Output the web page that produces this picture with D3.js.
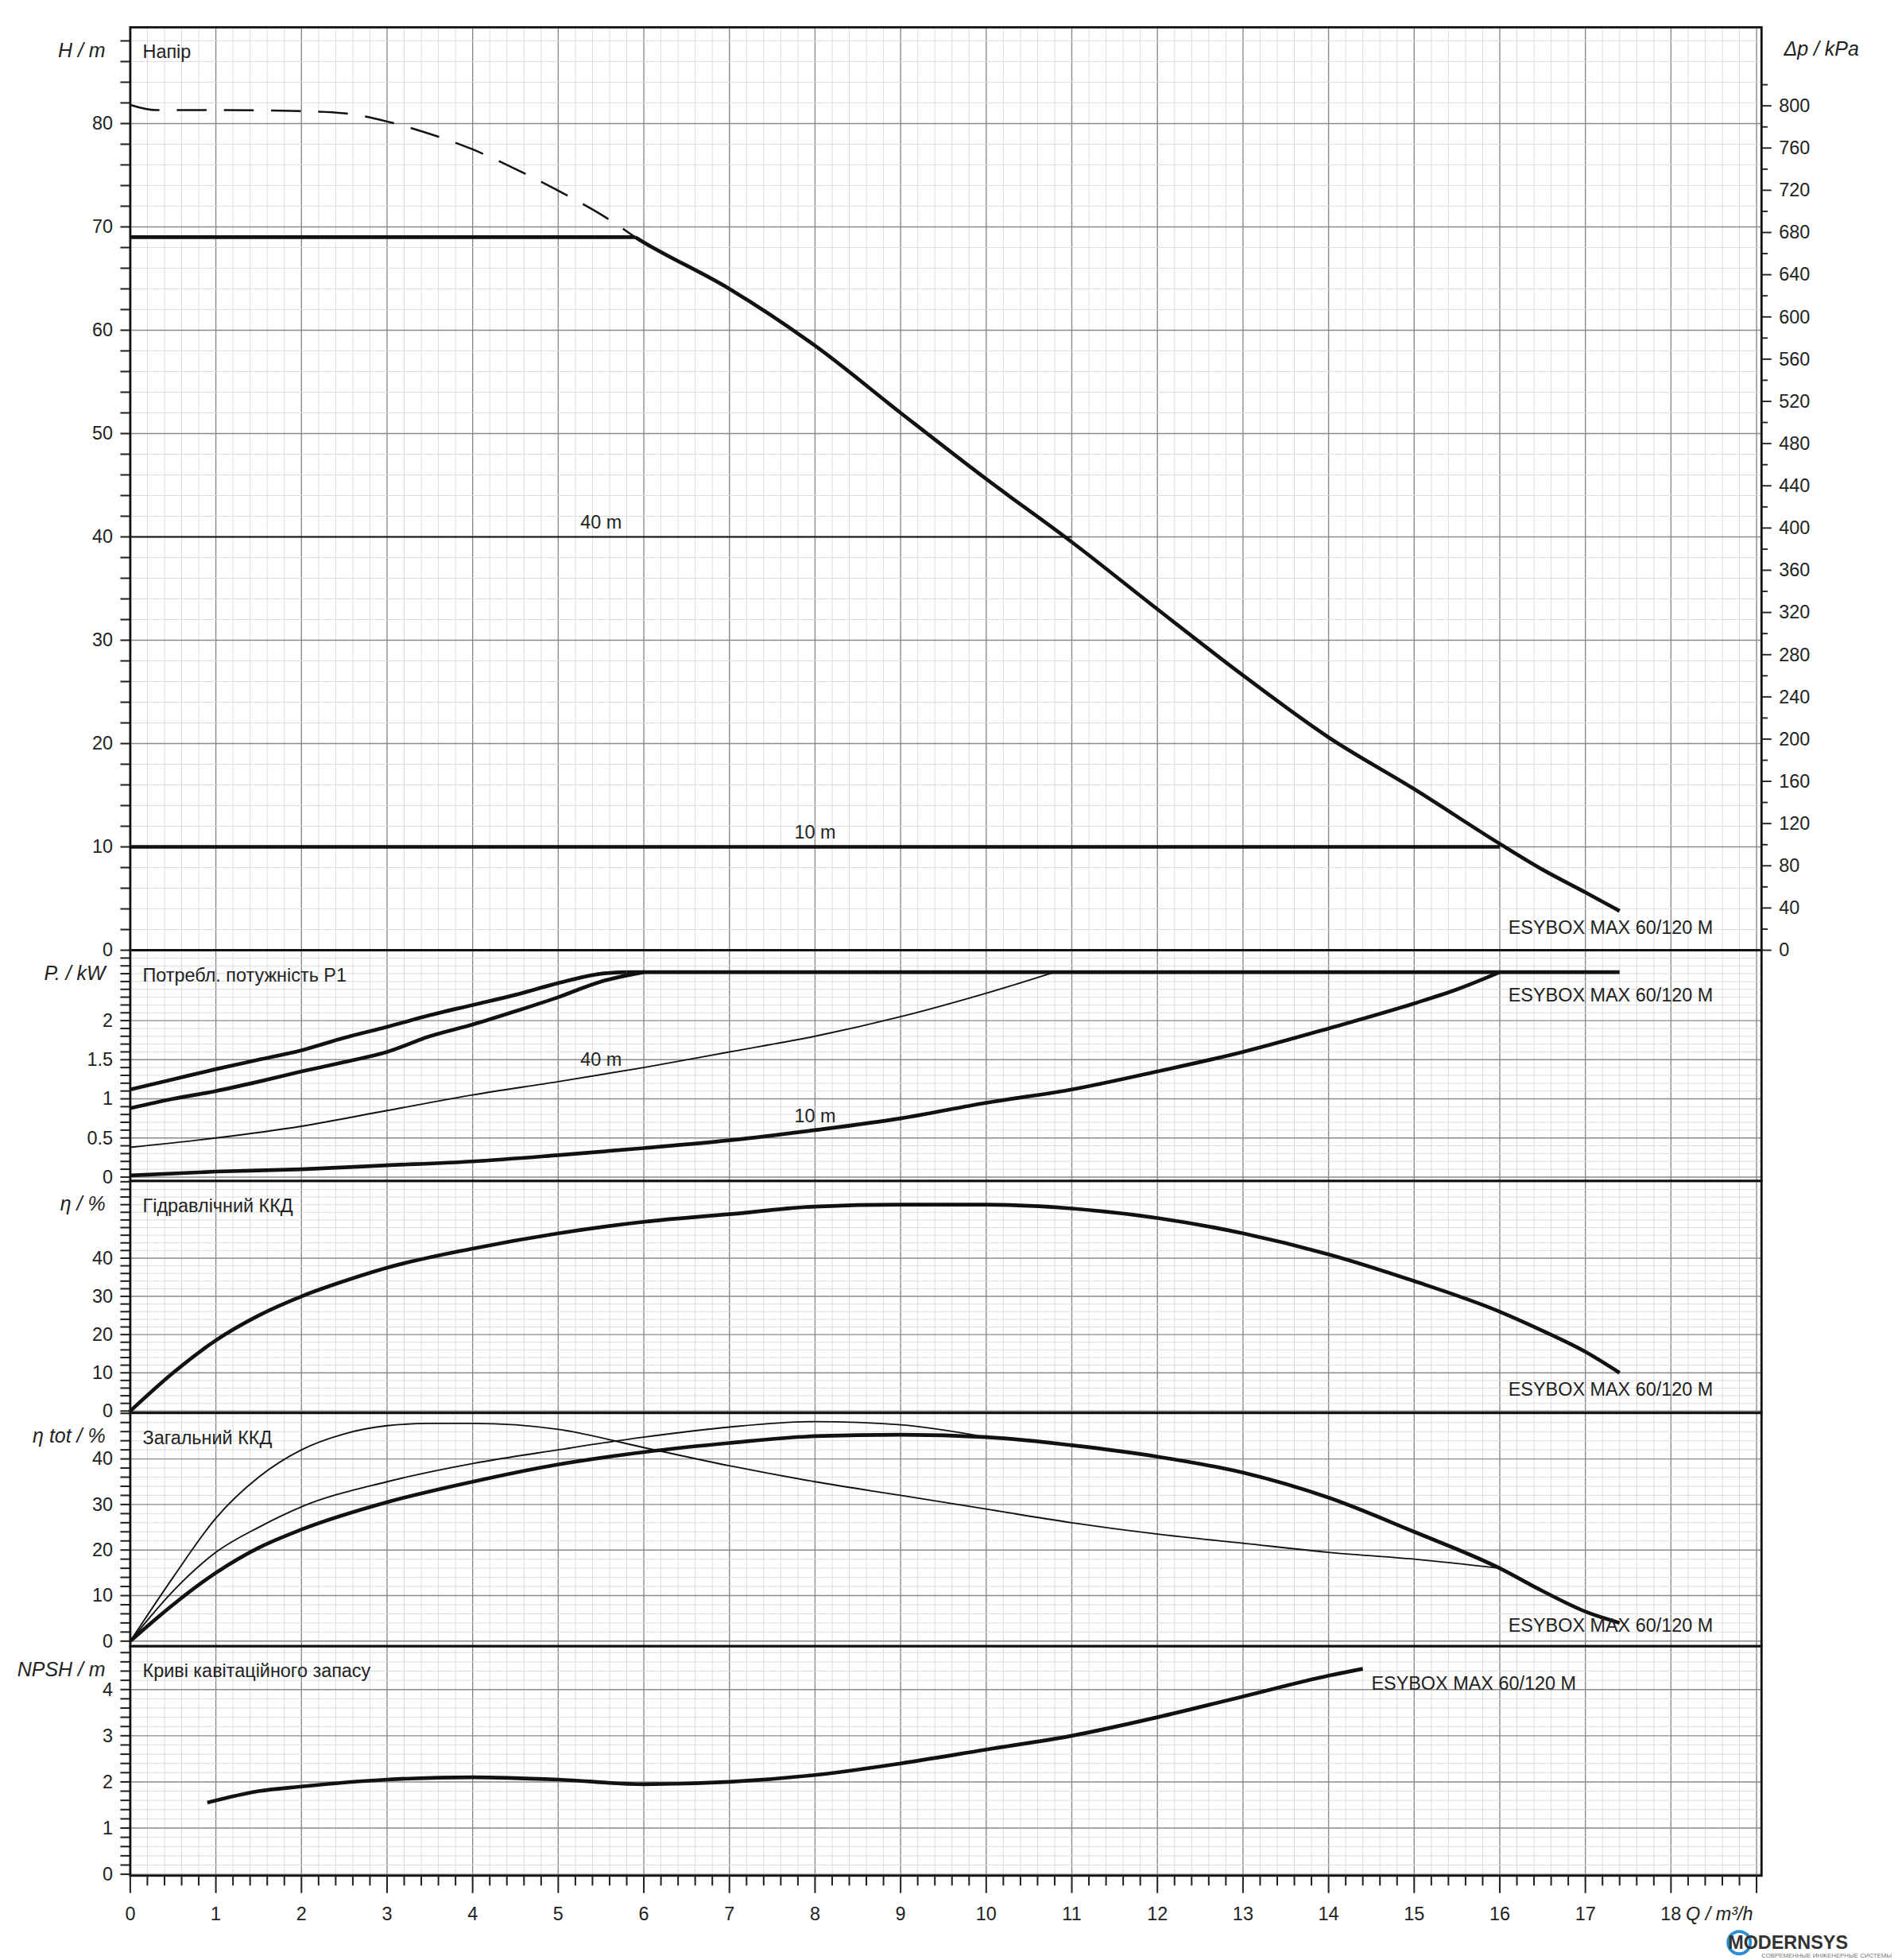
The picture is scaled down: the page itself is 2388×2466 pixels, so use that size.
<!DOCTYPE html>
<html><head><meta charset="utf-8">
<script src="https://cdn.jsdelivr.net/npm/d3@7"></script>
<style>body{margin:0;background:#fff}svg{display:block}text{font-family:"Liberation Sans",Arial,sans-serif;fill:#222}</style>
</head><body><svg id="c" width="2388" height="2466" viewBox="0 0 1530 1580"></svg>
<script>
const model="ESYBOX MAX 60/120 M";
const hMain=[[5.9,69],[6,68.5],[7,64],[8,58.5],[9,52],[10,45.6],[11,39.5],[12,33],[13,26.6],[14,20.6],[15,15.6],[16,10.3],[16.5,7.8],[17,5.6],[17.4,3.8]];
const hMax=[[0,69],[5.9,69]];
const hDash=[[0,81.8],[0.3,81.3],[1,81.3],[2,81.2],[2.5,81],[3,80.2],[3.5,79],[4,77.5],[4.5,75.6],[5,73.5],[5.5,71.2],[5.9,69]];
const h40=[[0,40],[11,40]], h10=[[0,10],[16,10]];
const pCap=[[5.8,2.62],[17.4,2.62]];
const pA=[[0,1.12],[0.5,1.25],[1,1.38],[1.5,1.5],[2,1.62],[2.5,1.78],[3,1.92],[3.5,2.07],[4,2.2],[4.5,2.33],[5,2.48],[5.5,2.6],[5.8,2.62]];
const pB=[[0,0.88],[0.5,1],[1,1.1],[1.5,1.22],[2,1.35],[2.5,1.47],[3,1.6],[3.5,1.8],[4,1.95],[4.5,2.12],[5,2.3],[5.5,2.5],[6,2.62]];
const p40=[[0,0.38],[1,0.5],[2,0.65],[3,0.85],[4,1.05],[5,1.22],[6,1.4],[7,1.6],[8,1.8],[9,2.05],[10,2.35],[10.8,2.62]];
const p10=[[0,0.02],[1,0.07],[2,0.1],[3,0.15],[4,0.2],[5,0.28],[6,0.37],[7,0.47],[8,0.6],[9,0.75],[10,0.95],[11,1.12],[12,1.35],[13,1.6],[14,1.9],[15,2.22],[15.5,2.4],[16,2.62]];
const eta=[[0,0],[0.5,10],[1,18.5],[1.5,25],[2,30],[2.5,34],[3,37.5],[4,42.5],[5,46.5],[6,49.5],[7,51.5],[8,53.5],[9,54],[10,54],[11,53],[12,50.5],[13,46.5],[14,41],[15,34],[16,26],[16.5,21],[17,15.5],[17.4,10]];
const etaT=[[0,0],[0.5,8],[1,15],[1.5,20.5],[2,24.5],[3,30.5],[4,35],[5,38.8],[6,41.5],[7,43.5],[8,45],[9,45.3],[10,44.8],[11,43],[12,40.5],[13,37],[14,31.5],[15,24],[16,16],[16.5,11],[17,6.5],[17.4,4]];
const etaT1=[[0,0],[0.5,14],[1,27],[1.5,36],[2,42],[2.5,45.5],[3,47.3],[3.5,47.8],[4,47.8],[5,46.5],[6,42.5],[7,38.5],[8,35],[9,32],[10,29],[11,26],[12,23.5],[13,21.5],[14,19.5],[15,18],[16,16]];
const etaT2=[[0,0],[0.5,11],[1,19.5],[1.5,25],[2,29.5],[3,35],[4,39],[5,42],[6,44.8],[7,47],[8,48.2],[9,47.5],[10,44.8]];
const npsh=[[0.9,1.55],[1.5,1.8],[2,1.9],[3,2.05],[4,2.1],[5,2.05],[6,1.95],[7,2.0],[8,2.15],[9,2.4],[10,2.7],[11,3.0],[12,3.4],[13,3.85],[14,4.3],[14.4,4.45]];
const xLabels=d3.range(0,19);
const dpLabels=d3.range(0,801,40);

const svg=d3.select("#c");
const L=105,R=1420;
const x=d3.scaleLinear().domain([0,(R-L)/69]).range([L,R]);
const panels=[
 {t:22,b:766,d:[0,(766-22)/8.33],minor:2,major:[0,10,20,30,40,50,60,70,80],lab:"H / m",title:"Напір"},
 {t:766,b:952,d:[-0.05,2.9],minor:0.1,major:[0,0.5,1,1.5,2],lab:"P. / kW",title:"Потребл. потужність P1"},
 {t:952,b:1139,d:[-0.5,60.2],minor:2,major:[0,10,20,30,40],lab:"η / %",title:"Гідравлічний ККД"},
 {t:1139,b:1327,d:[-1.1,50.1],minor:2,major:[0,10,20,30,40],lab:"η tot / %",title:"Загальний ККД"},
 {t:1327,b:1512,d:[-0.03,4.94],minor:0.2,major:[0,1,2,3,4],lab:"NPSH / m",title:"Криві кавітаційного запасу"}
];
panels.forEach(p=>p.y=d3.scaleLinear().domain(p.d).range([p.b,p.t]));
const g=svg.append("g");
d3.range(0,19.05,0.2).forEach(v=>{const xv=x(v);if(xv>R)return;const maj=Math.abs(v-Math.round(v))<1e-6;
 g.append("line").attr("x1",xv).attr("x2",xv).attr("y1",22).attr("y2",1512).attr("stroke",maj?"#8a8a8a":"#dadada").attr("stroke-width",maj?0.9:0.6);});
panels.forEach(p=>{
 const ticks=d3.range(Math.ceil(p.d[0]/p.minor)*p.minor,p.d[1],p.minor);
 ticks.forEach(v=>{const yv=p.y(v);const maj=p.major.some(m=>Math.abs(m-v)<1e-6);
  g.append("line").attr("x1",L).attr("x2",R).attr("y1",yv).attr("y2",yv).attr("stroke",maj?"#8a8a8a":"#dadada").attr("stroke-width",maj?0.9:0.6);
  g.append("line").attr("x1",L-8).attr("x2",L).attr("y1",yv).attr("y2",yv).attr("stroke","#222").attr("stroke-width",1.3);});
 p.major.forEach(v=>{g.append("text").attr("x",L-14).attr("y",p.y(v)+5).attr("text-anchor","end").attr("font-size",15).text(v);});
 g.append("text").attr("x",L-20).attr("y",p.t+24).attr("text-anchor","end").attr("font-size",16).attr("font-style","italic").text(p.lab);
 g.append("text").attr("x",L+10).attr("y",p.t+25).attr("font-size",15).text(p.title);
 g.append("rect").attr("x",L).attr("y",p.t).attr("width",R-L).attr("height",p.b-p.t).attr("fill","none").attr("stroke","#111").attr("stroke-width",1.8);
});
const H=panels[0];
const dp=d3.scaleLinear().domain([0,800]).range([H.y(0),H.y(800/9.79)]);
d3.range(0,821,20).forEach(v=>{if(dp(v)<H.t)return;g.append("line").attr("x1",R).attr("x2",R+(v%40?5:8)).attr("y1",dp(v)).attr("y2",dp(v)).attr("stroke","#222").attr("stroke-width",1.2);});
dpLabels.forEach(v=>g.append("text").attr("x",R+14).attr("y",dp(v)+5).attr("font-size",15).text(v));
g.append("text").attr("x",R+18).attr("y",45).attr("font-size",16).attr("font-style","italic").text("Δp / kPa");
d3.range(0,19.05,0.2).forEach(v=>{const xv=x(v);if(xv>R)return;const maj=Math.abs(v-Math.round(v))<1e-6;
 g.append("line").attr("x1",xv).attr("x2",xv).attr("y1",1512).attr("y2",1512+(maj?14:8)).attr("stroke","#222").attr("stroke-width",1.3);});
xLabels.forEach(v=>g.append("text").attr("x",x(v)).attr("y",1548).attr("text-anchor","middle").attr("font-size",15).text(v));
g.append("text").attr("x",x(18)+12).attr("y",1548).attr("font-size",15).attr("font-style","italic").text("Q / m³/h");
function draw(p,data,w,dash){const ln=d3.line().x(d=>x(d[0])).y(d=>p.y(d[1])).curve(d3.curveMonotoneX);
 g.append("path").attr("d",ln(data)).attr("fill","none").attr("stroke","#111").attr("stroke-width",w).attr("stroke-dasharray",dash||null);}
draw(H,hDash,1.6,"24,14");draw(H,hMax,3);draw(H,hMain,3);draw(H,h40,1.3);draw(H,h10,3);
const P=panels[1],E=panels[2],T=panels[3],N=panels[4];
draw(P,pCap,3);draw(P,pA,3);draw(P,pB,3);draw(P,p40,1.2);draw(P,p10,3);
draw(E,eta,3);draw(T,etaT1,1.2);draw(T,etaT2,1.2);draw(T,etaT,3);draw(N,npsh,3);
function lab(p,xv,yv,t,a){g.append("text").attr("x",x(xv)).attr("y",p.y(yv)).attr("font-size",15).attr("text-anchor",a||"middle").text(t);}
lab(H,5.5,40.8,"40 m");lab(H,8,10.8,"10 m");lab(P,5.5,1.42,"40 m");lab(P,8,0.7,"10 m");
lab(H,16.1,1.6,model,"start");lab(P,16.1,2.24,model,"start");lab(E,16.1,4,model,"start");lab(T,16.1,2,model,"start");lab(N,14.5,4.0,model,"start");
g.append("circle").attr("cx",1402).attr("cy",1566).attr("r",9).attr("fill","none").attr("stroke","#2a8fd0").attr("stroke-width",2.5);
g.append("text").attr("x",1393).attr("y",1571).attr("font-size",15).attr("font-weight","bold").style("fill","#333").text("MODERNSYS");
g.append("text").attr("x",1420).attr("y",1578).attr("font-size",5).style("fill","#777").text("СОВРЕМЕННЫЕ ИНЖЕНЕРНЫЕ СИСТЕМЫ");
</script></body></html>
